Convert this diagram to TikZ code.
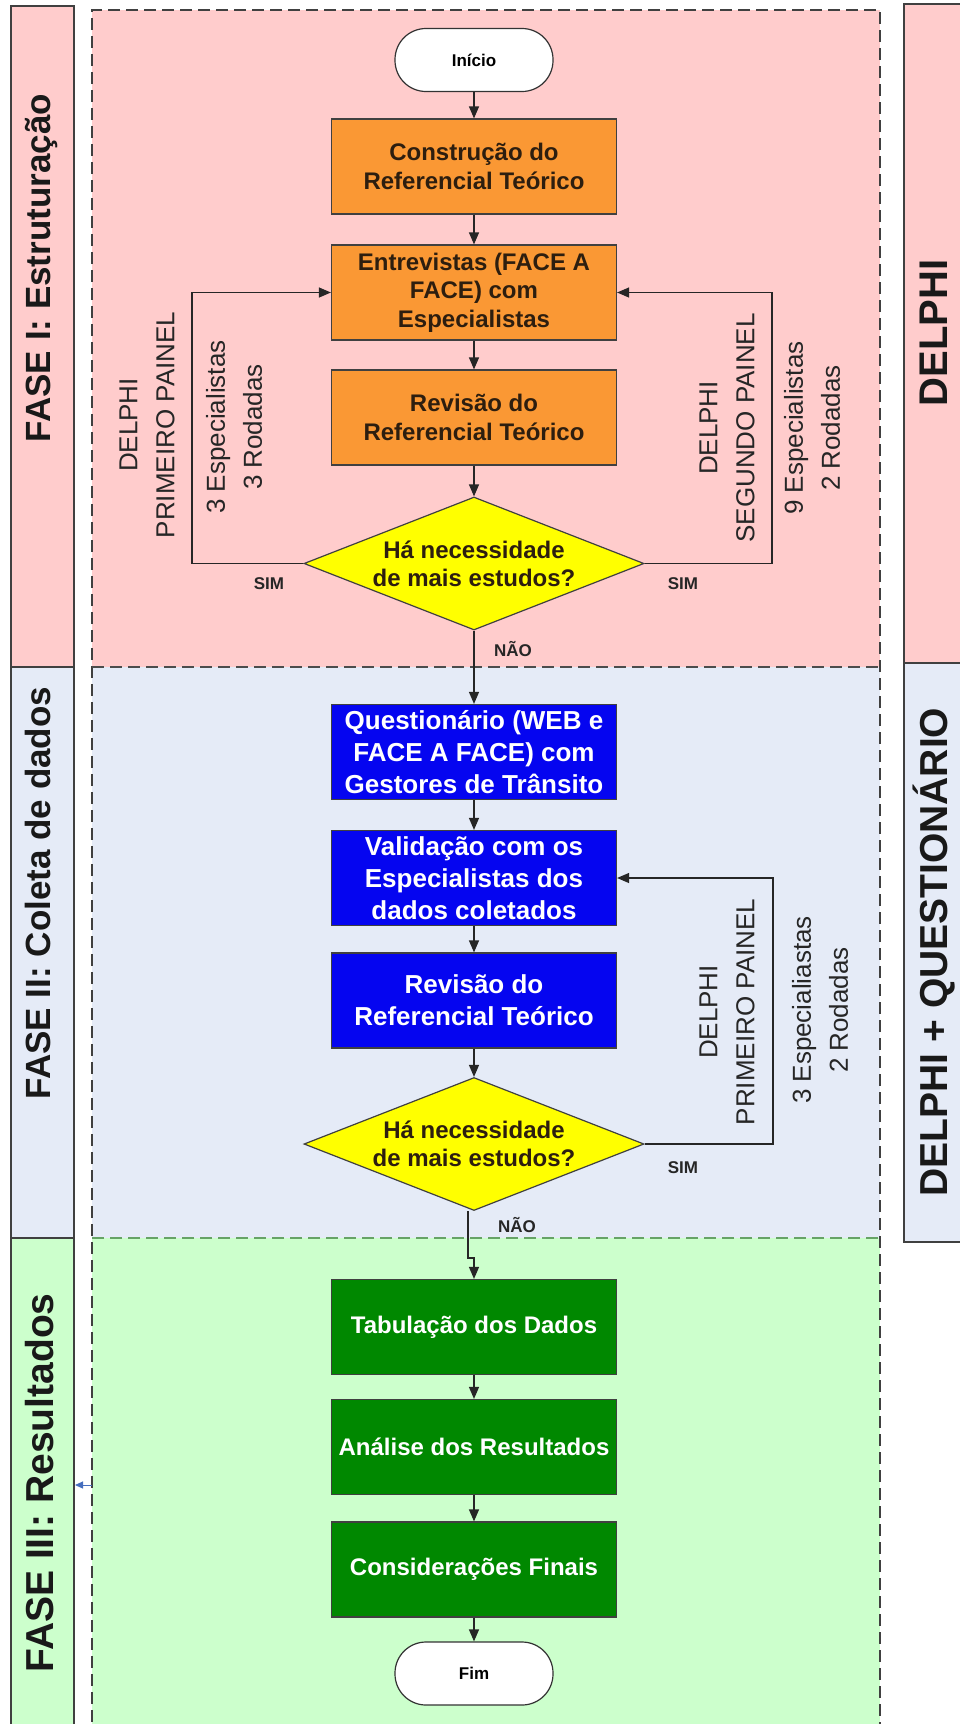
\documentclass[tikz,border=0pt]{standalone}
\usepackage{fontspec}
\setmainfont{Liberation Sans}
\usetikzlibrary{shapes.geometric,arrows.meta}

\definecolor{faseI}{RGB}{255,204,204}
\definecolor{faseII}{RGB}{229,235,247}
\definecolor{faseIII}{RGB}{204,255,204}
\definecolor{laranja}{RGB}{250,152,52}
\definecolor{azul}{RGB}{5,5,240}
\definecolor{verde}{RGB}{0,136,0}
\definecolor{amarelo}{RGB}{255,255,0}
\definecolor{tinta}{RGB}{45,30,15}
\definecolor{seta}{RGB}{70,110,190}

\begin{document}
\begin{tikzpicture}[x=1pt, y=-1pt, >={Triangle[length=12pt,width=10pt]},
    etapa/.style={draw=black!75, line width=1.2pt, minimum width=285pt,
        minimum height=95pt, inner sep=0pt, align=center},
    laranjabox/.style={etapa, fill=laranja, text=tinta,
        font=\bfseries\fontsize{24}{28.5}\selectfont},
    azulbox/.style={etapa, fill=azul, text=white,
        font=\bfseries\fontsize{26}{32}\selectfont},
    verdebox/.style={etapa, fill=verde, text=white,
        font=\bfseries\fontsize{24}{28}\selectfont},
    terminal/.style={draw=black!80, line width=1.2pt, fill=white,
        rounded corners=31pt, minimum width=158pt, minimum height=63pt,
        inner sep=0pt, font=\bfseries\fontsize{17}{20}\selectfont},
    decisao/.style={diamond, draw=black!75, line width=1.2pt, fill=amarelo,
        aspect=2.55, inner sep=0pt, minimum width=340pt, minimum height=133pt,
        align=center, text=tinta, font=\bfseries\fontsize{24}{28}\selectfont},
    fluxo/.style={->, line width=1.2pt, black!85},
    rotulo/.style={text=black!85, font=\bfseries\fontsize{17}{20}\selectfont},
    painel/.style={rotate=90, align=center, text=black!85,
        font=\fontsize{26}{37}\selectfont},
    fase/.style={rotate=90, anchor=base, text=black!90,
        font=\bfseries\fontsize{35}{40}\selectfont},
    metodo/.style={rotate=90, anchor=base, text=black!90,
        font=\bfseries\fontsize{40}{44}\selectfont}]

    % Page
    \fill[white] (0,0) rectangle (960,1724);
    \useasboundingbox (0,0) rectangle (960,1724);

    % Left bar: the three phases
    \draw[fill=faseI, line width=1.5pt, draw=black!75] (11,6) rectangle (74,667);
    \draw[fill=faseII, line width=1.5pt, draw=black!75] (11,667) rectangle (74,1238);
    \draw[fill=faseIII, line width=1.5pt, draw=black!75] (11,1238) rectangle (74,1740);
    \node[fase] (faseI) at (50,268) {FASE I: Estruturação};
    \node[fase] (faseII) at (50,893) {FASE II: Coleta de dados};
    \node[fase, font=\bfseries\fontsize{39}{44}\selectfont] (faseIII) at (53,1483) {FASE III: Resultados};

    % Right bar: method of each phase
    \draw[fill=faseI, line width=1.5pt, draw=black!75] (904,4) rectangle (980,663);
    \draw[fill=faseII, line width=1.5pt, draw=black!75] (904,663) rectangle (980,1242);
    \node[metodo] (delphi) at (947,333) {DELPHI};
    \node[metodo, font=\bfseries\fontsize{39}{44}\selectfont] (delphiq) at (947,952) {DELPHI + QUESTIONÁRIO};

    % Shaded lanes inside the dashed frame
    \fill[faseI] (92,10) rectangle (880,667);
    \fill[faseII] (92,667) rectangle (880,1238);
    \fill[faseIII] (92,1238) rectangle (880,1740);

    % Dashed frame and lane dividers
    \draw[dash pattern=on 12pt off 6pt, line width=1.4pt, black!75]
        (92,1740) -- (92,10) -- (880,10) -- (880,1740);
    \draw[dash pattern=on 12pt off 6pt, line width=1.4pt, black!70] (92,667) -- (880,667);
    \draw[dash pattern=on 12pt off 6pt, line width=1.4pt, black!60!green!60] (92,1238) -- (880,1238);

    % Small marker on the left edge
    \coordinate (marca) at (92,1485);
    \coordinate (marcafim) at (75,1485);
    \draw[-{Triangle[length=8pt,width=7pt]}, seta, line width=1pt] (marca) -- (marcafim);

    % Phase I
    \node[terminal] (inicio) at (474,60) {Início};
    \node[laranjabox] (c1) at (474,166.5) {Construção do\\Referencial Teórico};
    \node[laranjabox] (e1) at (474,292.5) {Entrevistas (FACE A\\FACE) com\\Especialistas};
    \node[laranjabox] (r1) at (474,417.5) {Revisão do\\Referencial Teórico};
    \node[decisao] (d1) at (474,563.5) {Há necessidade\\de mais estudos?};

    \draw[fluxo] (inicio) -- (c1);
    \draw[fluxo] (c1) -- (e1);
    \draw[fluxo] (e1) -- (r1);
    \draw[fluxo] (r1) -- (d1);

    % Loops back to the interviews
    \coordinate (volta1e) at (192,0);
    \coordinate (volta1d) at (772,0);
    \draw[fluxo] (d1.west) -- (d1.west -| volta1e) |- (e1.west);
    \draw[fluxo] (d1.east) -- (d1.east -| volta1d) |- (e1.east);

    \node[rotulo] (sim1e) at (269,584) {SIM};
    \node[rotulo] (sim1d) at (683,584) {SIM};
    \node[rotulo] (nao1) at (513,649) {NÃO};

    \node[painel] (painel1e) at (147,425) {DELPHI\\PRIMEIRO PAINEL};
    \node[painel] (rodada1e) at (234,427) {3 Especialistas\\3 Rodadas};
    \node[painel] (painel1d) at (727,428) {DELPHI\\SEGUNDO PAINEL};
    \node[painel] (rodada1d) at (812,428) {9 Especialistas\\2 Rodadas};

    % Phase II
    \node[azulbox] (q2) at (474,752) {Questionário (WEB e\\FACE A FACE) com\\Gestores de Trânsito};
    \node[azulbox] (v2) at (474,878) {Validação com os\\Especialistas dos\\dados coletados};
    \node[azulbox] (r2) at (474,1000.5) {Revisão do\\Referencial Teórico};
    \node[decisao] (d2) at (474,1144) {Há necessidade\\de mais estudos?};

    \draw[fluxo] (d1) -- (q2);
    \draw[fluxo] (q2) -- (v2);
    \draw[fluxo] (v2) -- (r2);
    \draw[fluxo] (r2) -- (d2);

    \coordinate (volta2) at (773,0);
    \draw[fluxo] (d2.east) -- (d2.east -| volta2) |- (v2.east);

    \node[rotulo] (sim2) at (683,1168) {SIM};
    \node[rotulo] (nao2) at (517,1225) {NÃO};

    \node[painel] (painel2) at (727,1012) {DELPHI\\PRIMEIRO PAINEL};
    \node[painel] (rodada2) at (820,1010) {3 Especialiastas\\2 Rodadas};

    % Phase III
    \node[verdebox] (t3) at (474,1327) {Tabulação dos Dados};
    \node[verdebox] (a3) at (474,1447) {Análise dos Resultados};
    \node[verdebox] (c3) at (474,1569.5) {Considerações Finais};
    \node[terminal] (fim) at (474,1673.5) {Fim};

    \coordinate (desvio) at (468,1258);
    \draw[fluxo] (d2.south -| desvio) -- (desvio) -| (t3.north);
    \draw[fluxo] (t3) -- (a3);
    \draw[fluxo] (a3) -- (c3);
    \draw[fluxo] (c3) -- (fim);

\end{tikzpicture}
\end{document}
